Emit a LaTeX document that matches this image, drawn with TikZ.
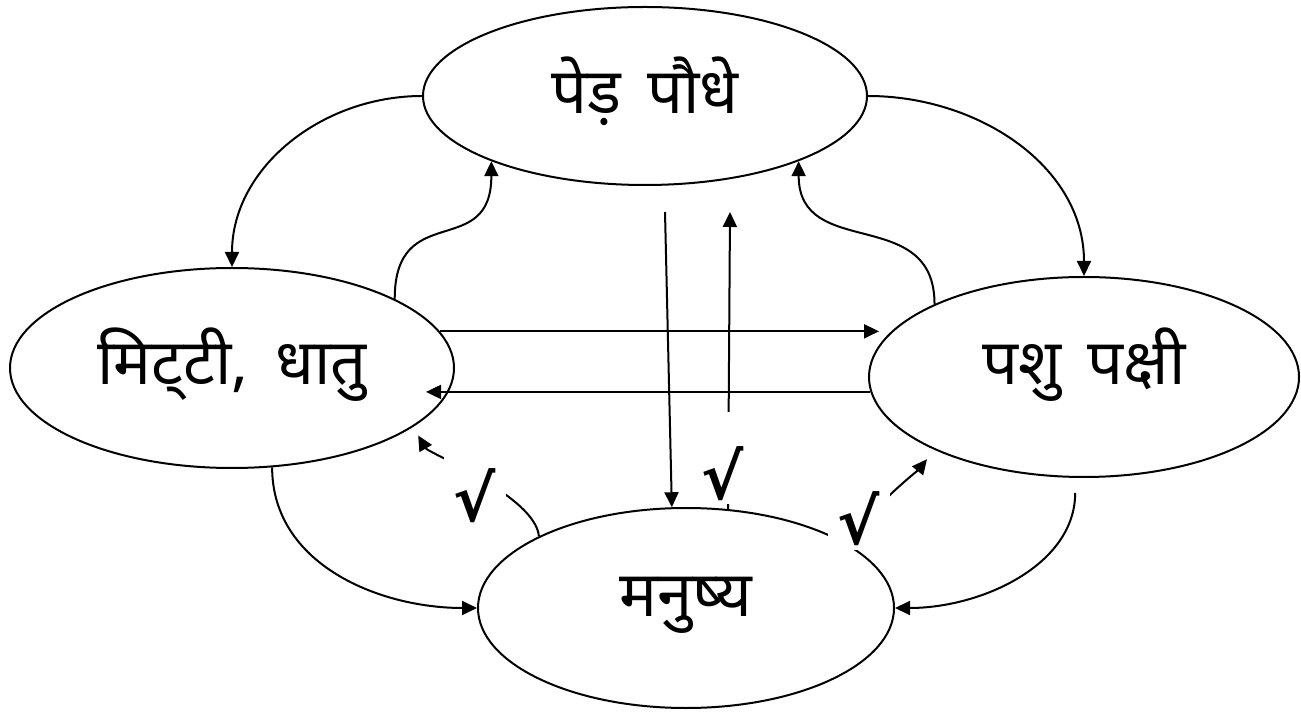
\documentclass[tikz,border=0pt]{standalone}
\usepackage{fontspec}
\newfontfamily\hindi[Script=Devanagari, WordSpace=1.6]{Noto Sans}
\newfontfamily\symb{DejaVu Sans}
\usetikzlibrary{shapes.geometric, arrows.meta, calc}
\tikzset{
  bubble/.style={ellipse, draw=black, line width=0.4mm, inner sep=0pt,
                 font=\hindi\fontsize{36}{43}\selectfont},
  arrow/.style={-{Triangle[length=3mm, width=2.8mm]}, line width=0.4mm},
  vmark/.style={fill=white, inner sep=0pt, minimum width=12.4mm,
                text height=17.4mm, text depth=1mm,
                font=\symb\bfseries\fontsize{36}{36}\selectfont},
}

\begin{document}
\begin{tikzpicture}[x=0.2mm, y=0.2mm]
\useasboundingbox (0,0) rectangle (1301,711);

% ── ellipses ──────────────────────────────────────────────────────────────────
\node[bubble, minimum width=88.8mm, minimum height=35.6mm] (plants)  at (645,615)
  {\raisebox{0.9mm}[\height][\depth]{पेड़ पौधे}};
\node[bubble, minimum width=88.8mm, minimum height=40mm]   (soil)    at (232,343)
  {\raisebox{0.7mm}[\height][\depth]{मिट्^^^^200cटी, धातु}};
\node[bubble, minimum width=86mm,   minimum height=40mm]   (animals) at (1084,334)
  {\raisebox{2.5mm}[\height][\depth]{पशु पक्षी}};
\node[bubble, minimum width=83.2mm, minimum height=40mm]   (human)   at (686,103)
  {\raisebox{0.6mm}[\height][\depth]{मनुष्य}};

% ── outer ring ────────────────────────────────────────────────────────────────
\draw[arrow] (plants.west) to[out=180, in=90] (soil.north);
\draw[arrow] (plants.east) to[out=0, in=90] (animals.north);
\draw[arrow] (soil.292) to[out=-90, in=180] (human.west);
\draw[arrow, shorten <=3mm] (animals.265) to[out=-90, in=0] (human.east);

% ── back to the trees ─────────────────────────────────────────────────────────
\draw[arrow] (soil.23) .. controls +(90:100) and +(-90:100) .. (plants.203);
\draw[arrow] (animals.154) .. controls +(90:100) and +(-90:100) .. (plants.337);

% ── soil <-> animals ──────────────────────────────────────────────────────────
\draw[arrow] (soil.10) -- ($(soil.10 -| animals.west)+(11,0)$);
\draw[arrow] (animals.184) -- ($(animals.184 -| soil.east)+(-29,0)$);

% ── middle pair ───────────────────────────────────────────────────────────────
\coordinate (dtop) at (665,499);
\coordinate (utop) at (730,499);
\draw[arrow] (dtop) -- (human.98);
\draw[arrow] (human.67) -- (utop);

% ── ticked returns ────────────────────────────────────────────────────────────
\draw[arrow, shorten >=2mm] (human.154) .. controls +(95:40) and +(-60:30) .. (soil.342);
\draw[arrow, shorten >=2.4mm] (human.21) .. controls +(70:30) and +(231:25) .. (animals.206);

% tick marks (white box hides the line under them)
\node[vmark] (v1) at (475,230) {√};
\node[vmark] (v2) at (723,253) {√};
\node[vmark] (v3) at (859,207) {√};

\end{tikzpicture}
\end{document}
